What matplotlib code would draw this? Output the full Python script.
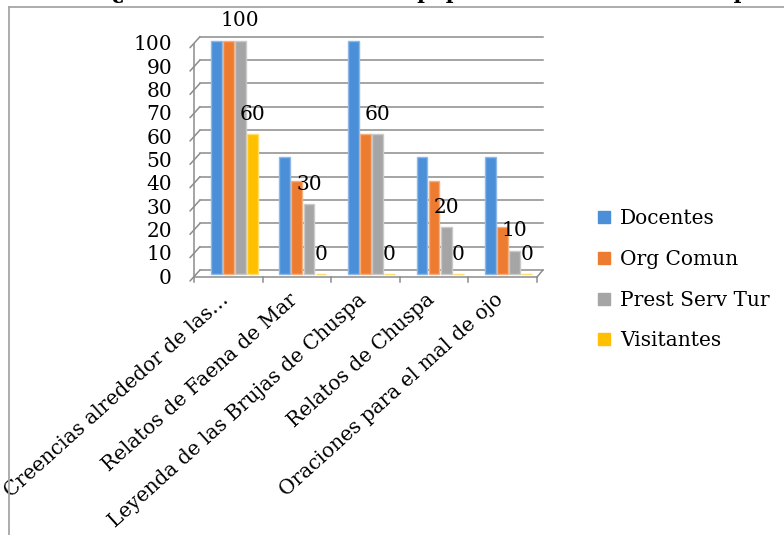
import matplotlib
matplotlib.use("Agg")
import matplotlib.pyplot as plt
from matplotlib.transforms import ScaledTranslation
from matplotlib.patches import ConnectionPatch
from matplotlib.lines import Line2D
import numpy as np

# ---------------- data ----------------
categories = ["Creencias alrededor de las…",
              "Relatos de Faena de Mar",
              "Leyenda de las Brujas de Chuspa",
              "Relatos de Chuspa",
              "Oraciones para el mal de ojo"]
series_names = ["Docentes", "Org Comun", "Prest Serv Tur", "Visitantes"]
docentes = [100, 50, 100, 50, 50]
org_comun = [100, 40, 60, 40, 20]
prest_serv_tur = [100, 30, 60, 20, 10]
visitantes = [60, 0, 0, 0, 0]
y_ticks = [0, 10, 20, 30, 40, 50, 60, 70, 80, 90, 100]
labelled_series = ["Prest Serv Tur", "Visitantes"]
title_prefix = "Gráfica 30."
title_text = "¿Cuáles son las creencias populares escritas en Chuspa?"

series_values = [docentes, org_comun, prest_serv_tur, visitantes]
colors = ["#4A8FD8", "#EE7C30", "#A5A5A5", "#FFC000"]
edge_colors = ["#8DB8E8", "#F5AE7E", "#C9C9C9", "#FFDC6E"]

FONT = ["DejaVu Serif"]
FS = 14.5
W, H = 784, 535

fig = plt.figure(figsize=(W / 100, H / 100), dpi=100)
fig.patch.set_facecolor("white")

# axes = back wall plane of the 3D-like chart
x0, x1 = 200, 543
y0, y100 = 270, 36.7
ax = fig.add_axes([x0 / W, (H - y0) / H, (x1 - x0) / W, (y0 - y100) / H])
ax.set_xlim(-0.5, len(categories) - 0.5)
ax.set_ylim(0, 100)
ax.axis("off")


def shift(dx, dy):
    """data transform shifted by dx px right, dy px down"""
    return ax.transData + ScaledTranslation(dx / 100, -dy / 100, fig.dpi_scale_trans)


back = ax.transData
front = shift(-6, 7)
tick_out = shift(-10, 11)
bar_t = shift(0, 4)

grid_col = "#8C8C8C"
xl, xr = -0.5, len(categories) - 0.5

# back wall gridlines
for v in y_ticks:
    ax.plot([xl, xr], [v, v], color=grid_col, lw=1.1, transform=back,
            clip_on=False, zorder=1)
    con = ConnectionPatch(xyA=(xl, v), coordsA=tick_out, xyB=(xl, v),
                          coordsB=back, color=grid_col, lw=1.1, zorder=1)
    ax.add_artist(con)

# left wall front edge
ax.plot([xl, xl], [0, 100], color=grid_col, lw=1.1, transform=front,
        clip_on=False, zorder=1)
# floor front edge and right edge
ax.plot([xl, xr], [0, 0], color=grid_col, lw=1.1, transform=front,
        clip_on=False, zorder=1)
ax.add_artist(ConnectionPatch(xyA=(xr, 0), coordsA=front, xyB=(xr, 0),
                              coordsB=back, color=grid_col, lw=1.1, zorder=1))
# category tick marks on floor front edge
for b in np.arange(len(categories) + 1) - 0.5:
    ax.plot([b, b], [0, -2.3], color=grid_col, lw=1.1, transform=front,
            clip_on=False, zorder=1)

# bars
n = len(series_names)
bw = 0.175
xs = np.arange(len(categories))
for i, (name, vals) in enumerate(zip(series_names, series_values)):
    pos = xs + (i - (n - 1) / 2) * bw
    ax.bar(pos, vals, width=bw * 0.9, color=colors[i],
           edgecolor=edge_colors[i], linewidth=1.0, transform=bar_t,
           clip_on=False, zorder=3, label=name)
    if name in labelled_series:
        for xp, v in zip(pos, vals):
            ax.annotate(str(v), xy=(xp, v), xycoords=bar_t,
                        xytext=(0, 20), textcoords="offset pixels",
                        ha="center", va="center", fontsize=FS,
                        family=FONT, color="black", zorder=5)

# y tick labels (front plane)
for v in y_ticks:
    ax.text(xl, v, str(v), transform=shift(-28, 8), ha="right", va="center",
            fontsize=FS, family=FONT, color="black")

# category labels
for xp, lab in zip(xs, categories):
    ax.text(xp, 0, lab, transform=shift(-8, 27), rotation=42,
            rotation_mode="anchor", ha="right", va="center",
            fontsize=FS, family=FONT, color="black")

# legend
handles = [Line2D([0], [0], marker="s", linestyle="none", markersize=8.5,
                  markerfacecolor=c, markeredgecolor=c) for c in colors]
leg = fig.legend(handles, series_names, loc="upper left",
                 bbox_to_anchor=(588 / W, 1 - 201 / H), frameon=False,
                 prop={"family": FONT, "size": FS}, handlelength=0.8,
                 handletextpad=0.4, labelspacing=1.08, borderaxespad=0)

# outer frame of the chart object
fc = "#A6A6A6"
fig.add_artist(Line2D([8.5 / W, 8.5 / W], [0, 1 - 7 / H], color=fc, lw=1.3,
                      transform=fig.transFigure))
fig.add_artist(Line2D([8.5 / W, 1], [1 - 7 / H, 1 - 7 / H], color=fc, lw=1.3,
                      transform=fig.transFigure))

# caption above the frame, clipped by the top edge as in the source image
fig.text(100 / W, 1 + 1.0 / H, title_prefix, ha="right", va="baseline",
         fontsize=15, fontweight="bold", family=FONT)
fig.text(112 / W, 1 + 1.0 / H, title_text, ha="left", va="baseline",
         fontsize=15, fontweight="bold", family=FONT)

fig.savefig("out.png", dpi=100)
